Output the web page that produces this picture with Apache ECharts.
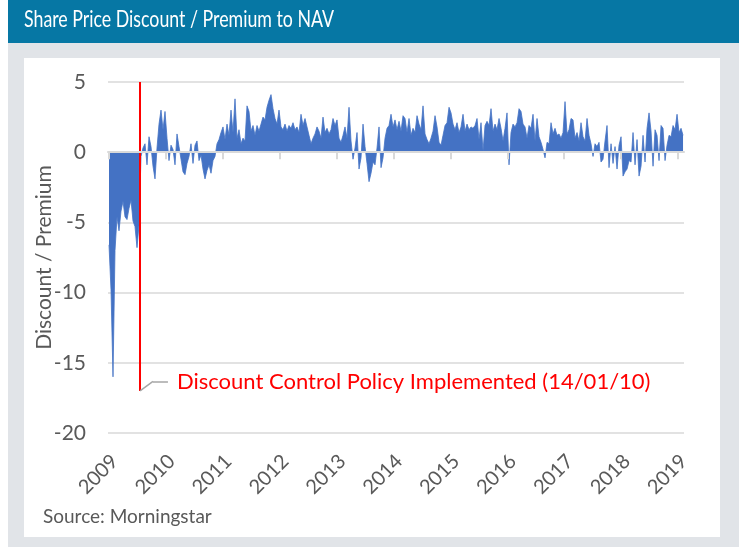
<!DOCTYPE html>
<html>
<head>
<meta charset="utf-8">
<script src="https://cdn.jsdelivr.net/npm/echarts@6/dist/echarts.min.js"></script>
</head>
<body style="margin:0">
<div id="chart" style="width:739px;height:547px"></div>
<script>
// year labels, one per anniversary of the first sample
var yearLabels = ['2009','2010','2011','2012','2013','2014','2015','2016','2017','2018','2019'];
var firstSample = 2009.49;      // late June 2009
var sampleStep = 0.03515;       // roughly fortnightly readings
var policyDate = 2010.036;      // 14/01/10
var policyText = 'Discount Control Policy Implemented (14/01/10)';

// discount (-) / premium (+) in %
var discountPre = [-6.6, -9.8, -16.0, -7.0, -4.6, -5.6, -4.2, -3.5, -4.6, -4.8, -4.0, -3.4, -4.9, -5.3, -6.8, -5.2];
var discount2010 = [-0.3, 0.3, 0.6, -0.9, 1.1, 0.4, -1.0, -1.9, 0.3, 2.0, 3.0, 1.6, 2.9, 1.0, -0.6, 0.5, 0.2, -0.9, 1.3, 0.4,
    -0.5, -1.4, -1.6, -0.8, -0.3, 0.6, -0.8, 0.5, 0.8, -0.6, -0.2, -1.2, -1.9, -1.3, -0.9, -1.5, -0.6, -0.3, 0.6, 0.9,
    1.4, 1.8, 0.9, 2.0, 1.2];
var discount2011 = [3.0, 1.4, 3.8, 1.0, 1.6, 0.6, 1.0, 0.8, 3.3, 2.9, 1.5, 1.9, 1.2, 1.9, 1.5, 2.0, 2.5, 2.3, 3.2, 3.7,
    4.1, 3.1, 2.4, 2.0, 3.0, 1.8, 1.6, 2.0, 1.5, 1.9, 1.7, 2.1, 1.6, 1.8, 1.4, 2.7, 1.9, 2.4, 1.8, 1.2,
    0.6, 1.0, 1.3, 1.8, 1.5, 1.0, 2.5, 1.4, 1.7, 1.3, 1.6, 2.4, 1.9, 2.3, 1.0, 0.7, 1.2, 1.8, 1.0, 3.2];
var discount2013 = [0.8, -0.5, 0.3, 1.4, -1.2, -0.4, 2.0, 0.4, -0.8, -2.1, -1.5, -0.7, -0.9, 0.3, 1.8, -1.1, -0.4, 1.0, 1.7, 1.9,
    2.7, 1.8, 2.3, 1.6, 2.2, 1.5, 2.6, 2.4, 1.4, 2.4, 1.2, 1.7, 1.4, 2.6, 2.0, 1.6, 3.3, 1.3, 0.9, 0.6,
    1.0, 1.5, 2.6, 1.8, 0.7, 0.5, 1.2, 1.9, 2.1, 3.2, 2.8, 2.0, 1.6, 2.1, 1.4, 1.8, 2.7, 1.5, 2.0, 1.6];
var discount2015 = [1.8, 1.7, 1.9, 2.4, 0.9, 2.1, 0.1, 1.9, 2.2, 1.9, 3.1, 1.5, 2.0, 1.6, 2.4, 1.7, 0.8, 1.7, 2.8, -0.9,
    1.4, 2.0, 1.8, 2.1, 3.1, 2.9, 2.0, 1.8, 1.0, 1.9, 1.7, 2.7, 0.8, 2.4, 1.1, 0.7, 0.2, -0.4, 0.7, 0.6,
    2.1, 1.3, 1.7, 1.2, 1.3, 1.0, 1.4, 3.6, 1.3, 1.6, 2.4, 2.3, 1.0, 1.4, 0.8, 2.1, 1.1, 0.8, 2.4, 1.2];
var discount2017 = [0.6, -0.3, 0.6, 0.4, 0.7, -0.7, -0.5, 0.8, 1.9, -1.1, 0.6, -0.8, 0.4, -1.2, 0.5, 1.1, -1.7, -1.4, -1.2, -0.6,
    -0.7, 1.4, -0.9, 0.9, -1.7, -1.0, 1.2, -0.7, 1.7, 2.8, 1.5, -1.0, 1.6, 1.2, -0.6, 1.9, 1.7, -0.6, 0.5, 1.2,
    1.1, 1.9, 1.6, 2.7, 1.4, 1.7, 1.2];

var yTicks = [-20, -15, -10, -5, 0, 5];

var values = discountPre.concat(discount2010, discount2011, discount2013, discount2015, discount2017);
var seriesData = [];
for (var i = 0; i < values.length; i++) {
    seriesData.push([firstSample + i * sampleStep, values[i]]);
}
var yearTicks = yearLabels.map(function (y, k) { return firstSample + k; });

var xMin = firstSample - 0.0176;
var xMax = firstSample + 10.105;
var labelShift = 0.1;
var grey = '#595959';
var font = 'Lato';

var chart = echarts.init(document.getElementById('chart'));
var option = {
    backgroundColor: '#ffffff',
    animation: false,
    graphic: [
        {type: 'rect', shape: {x: 8, y: 43, width: 731, height: 504}, style: {fill: '#e1e4e8'}, z: -10},
        {type: 'rect', shape: {x: 24, y: 58, width: 696, height: 479}, style: {fill: '#ffffff'}, z: -9},
        {type: 'rect', shape: {x: 8, y: 0, width: 731, height: 43}, style: {fill: '#0677a4'}, z: -9},
        {type: 'text', x: 24, y: 7, scaleX: 0.74, style: {text: 'Share Price Discount / Premium to NAV', fill: '#ffffff',
            font: '24px Lato'}},
        {type: 'text', left: 43, top: 507, style: {text: 'Source: Morningstar', fill: grey,
            font: '19px Lato'}}
    ],
    grid: {left: 108, right: 55, top: 82, bottom: 114},
    xAxis: [
        {
            type: 'value', min: xMin, max: xMax, z: 5,
            axisLine: {onZero: true, lineStyle: {color: '#d9d9d9', width: 2}},
            axisTick: {show: true, customValues: yearTicks, length: 7, lineStyle: {color: '#d9d9d9', width: 2}},
            axisLabel: {show: false},
            splitLine: {show: false}
        },
        {
            type: 'value', position: 'bottom', min: xMin - labelShift, max: xMax - labelShift,
            axisLine: {show: false, onZero: false},
            axisTick: {show: false},
            splitLine: {show: false},
            axisLabel: {
                rotate: 45, margin: 25, color: grey, fontFamily: font, fontSize: 20,
                customValues: yearTicks,
                formatter: function (v) { return yearLabels[Math.round(v - firstSample)]; }
            }
        }
    ],
    yAxis: {
        type: 'value', min: yTicks[0], max: yTicks[yTicks.length - 1], interval: 5,
        name: 'Discount / Premium', nameLocation: 'middle', nameGap: 53, nameMoveOverlap: false,
        nameTextStyle: {color: grey, fontFamily: font, fontSize: 21},
        axisLine: {show: false}, axisTick: {show: false},
        axisLabel: {color: grey, fontFamily: font, fontSize: 21, margin: 22},
        splitLine: {lineStyle: {color: '#d9d9d9', width: 1.5}}
    },
    series: [{
        type: 'line',
        data: seriesData,
        showSymbol: false,
        lineStyle: {color: '#4472c4', width: 0.8},
        areaStyle: {color: '#4472c4', opacity: 1},
        markLine: {
            silent: true,
            symbol: ['none', 'none'],
            label: {show: false},
            data: [
                [{coord: [policyDate, 5], lineStyle: {color: '#ff0000', width: 2, type: 'solid'}},
                 {coord: [policyDate, -17]}],
                [{coord: [policyDate, -17], lineStyle: {color: '#a6a6a6', width: 1.5, type: 'solid'}},
                 {coord: [policyDate + 0.227, -16.33]}],
                [{coord: [policyDate + 0.227, -16.33], lineStyle: {color: '#a6a6a6', width: 1.5, type: 'solid'},
                  label: {show: true, position: 'end', distance: 9, formatter: policyText,
                      color: '#ff0000', fontFamily: font, fontSize: 22}},
                 {coord: [policyDate + 0.49, -16.33]}]
            ]
        }
    }]
};
chart.setOption(option);
</script>
</body>
</html>
